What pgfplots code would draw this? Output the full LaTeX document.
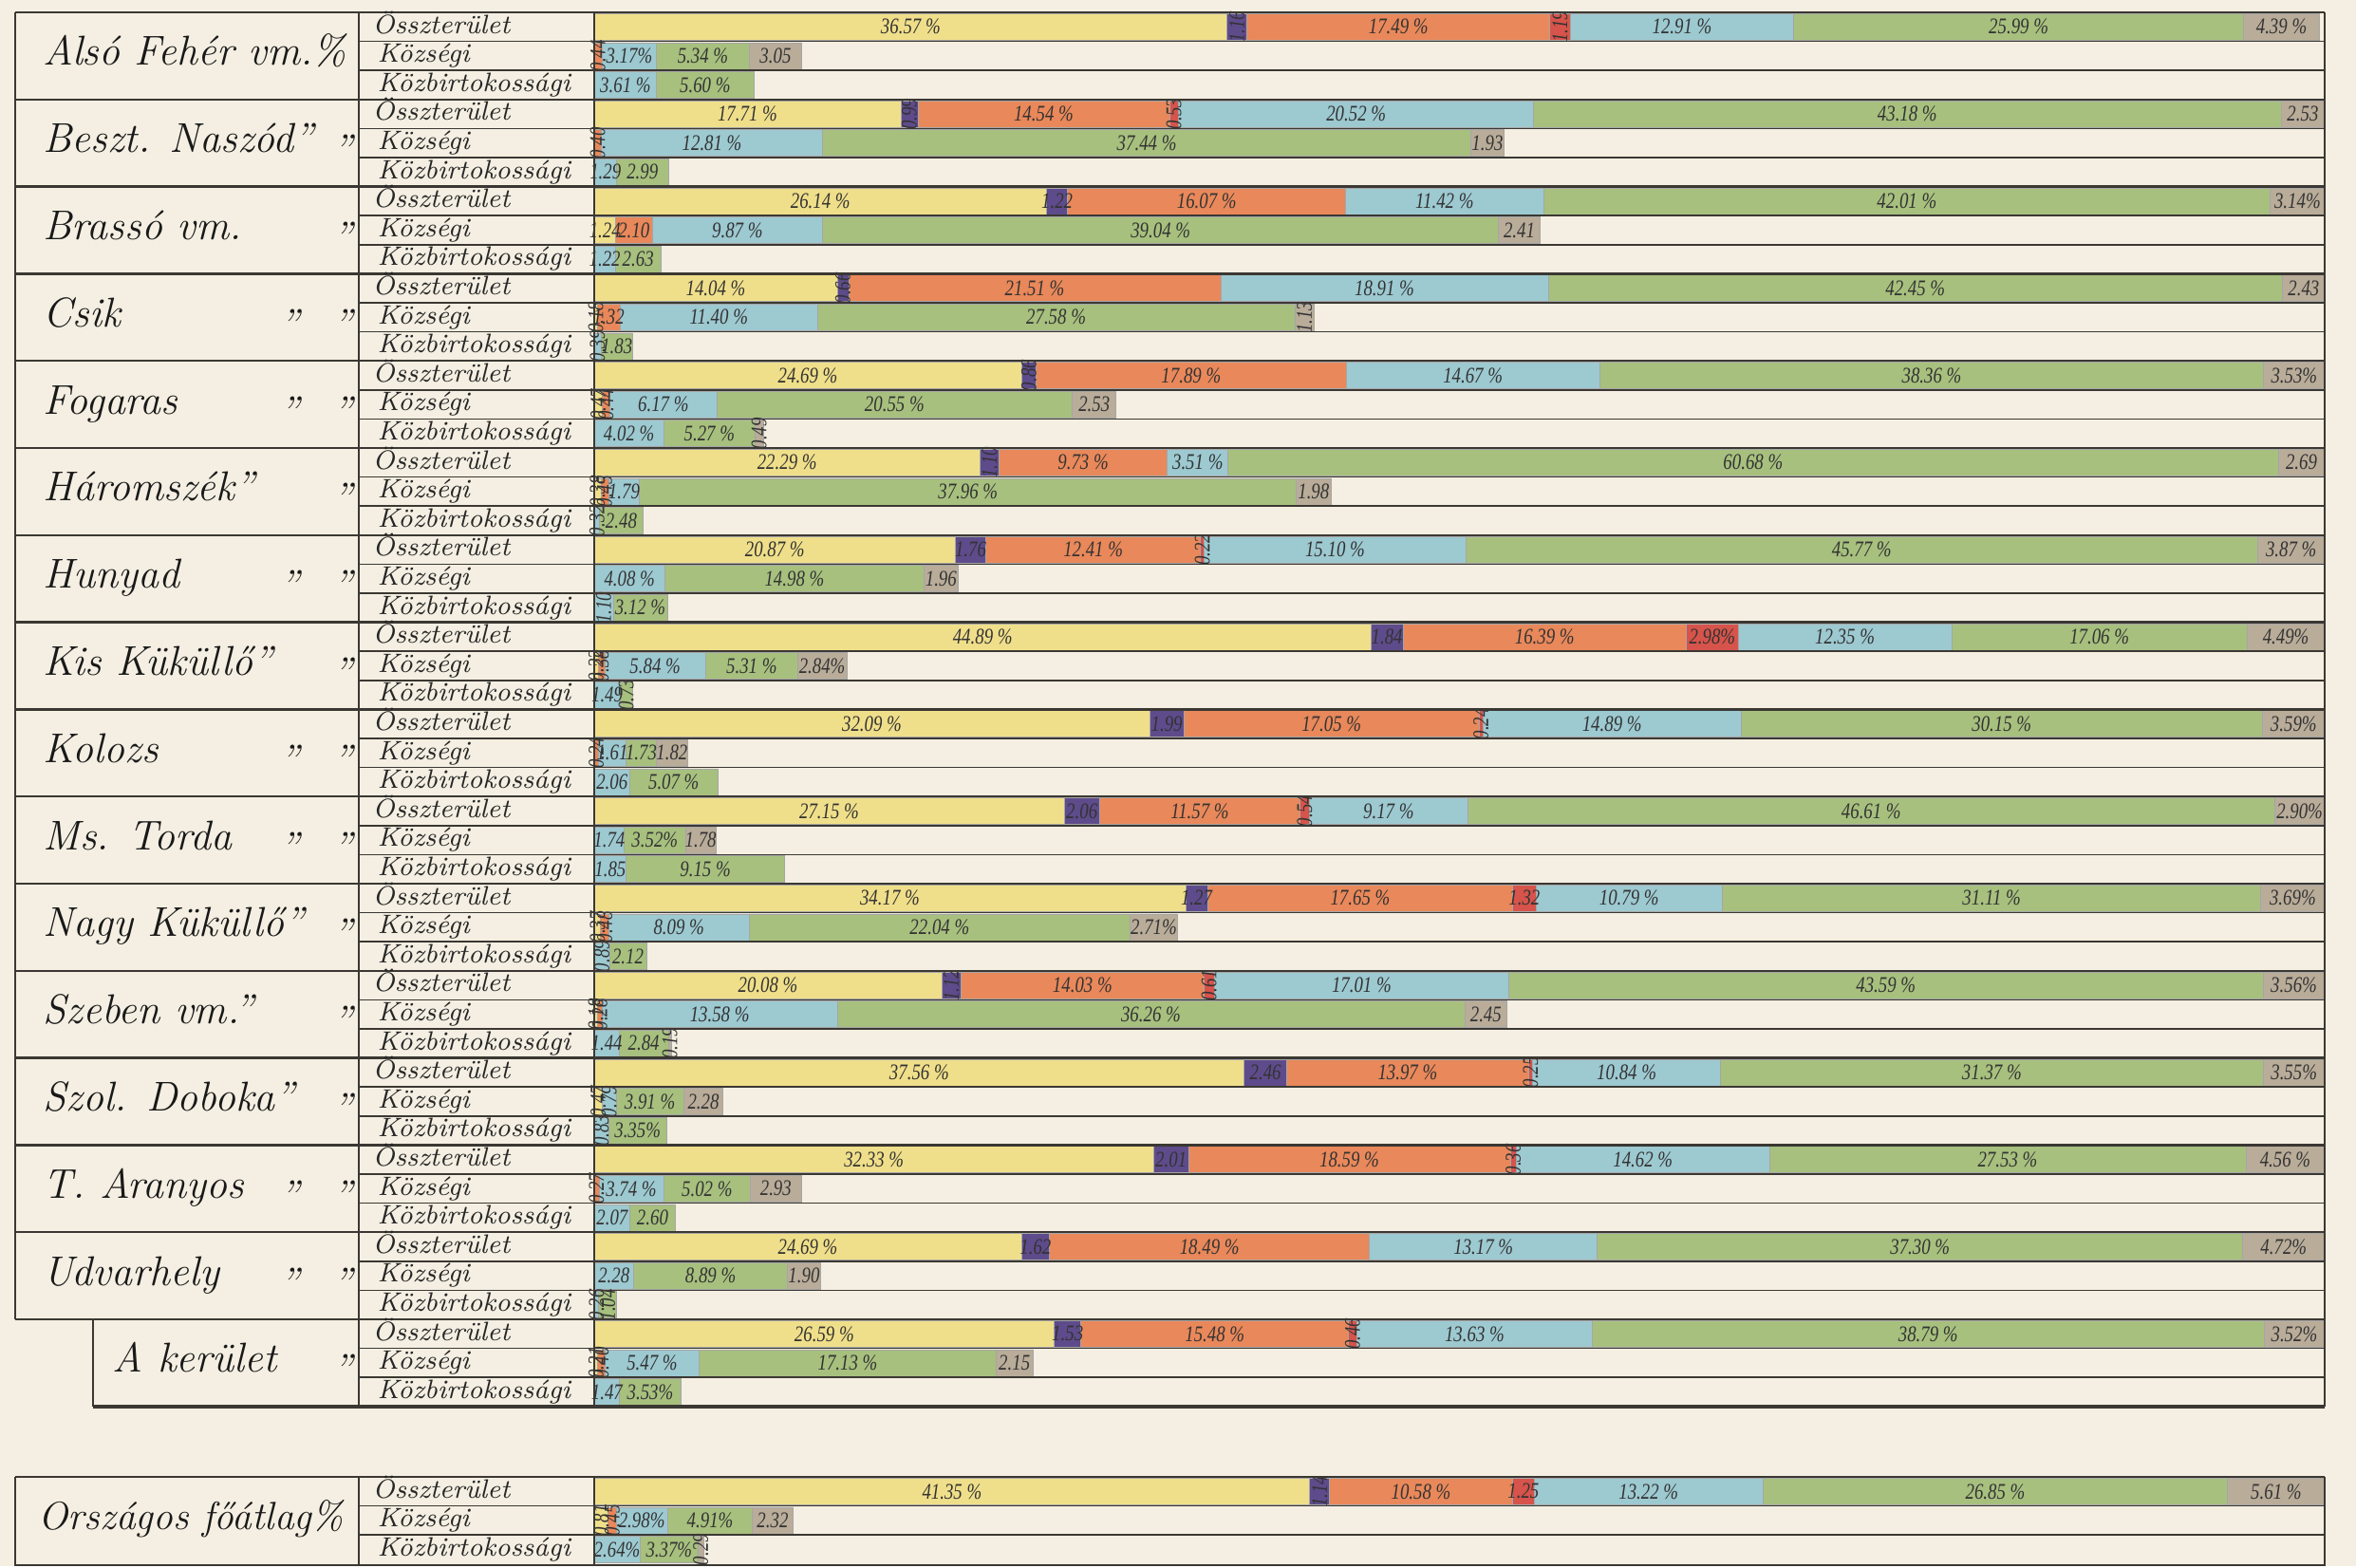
\documentclass[border=0pt]{standalone}
\usepackage{fontspec}
\usepackage{pgfplots}
\usepackage{pgfplotstable}
\pgfplotsset{compat=1.18}
\newfontfamily\labfont[FakeStretch=0.8]{Liberation Serif}
\definecolor{paper}{HTML}{F4EFE2}
\definecolor{cyel}{HTML}{F0DF8A}
\definecolor{cpur}{HTML}{5E4B8B}
\definecolor{cora}{HTML}{E9885A}
\definecolor{cred}{HTML}{D6544B}
\definecolor{cblu}{HTML}{9DC9D1}
\definecolor{cgre}{HTML}{A7C07E}
\definecolor{cgra}{HTML}{B9AC99}
\definecolor{lnc}{HTML}{3B3833}

\pgfplotstableread[col sep=comma]{
y,a,b,c,d,e,f,g,la,lb,lc,ld,le,lf,lg
28.3,36.57,1.16,17.49,1.19,12.91,25.99,4.39,36.57 \%,1.16,17.49 \%,1.19,12.91 \%,25.99 \%,4.39 \%
58.9,0,0,0.44,0,3.17,5.34,3.05,,,0.44,,3.17\%,5.34 \%,3.05
89.5,0,0,0,0,3.61,5.60,0,,,,,3.61 \%,5.60 \%,
120.1,17.71,0.99,14.54,0.53,20.52,43.18,2.53,17.71 \%,0.99,14.54 \%,0.53,20.52 \%,43.18 \%,2.53
150.7,0,0,0.40,0,12.81,37.44,1.93,,,0.40,,12.81 \%,37.44 \%,1.93
181.3,0,0,0,0,1.29,2.99,0,,,,,1.29,2.99,
211.9,26.14,1.22,16.07,0,11.42,42.01,3.14,26.14 \%,1.22,16.07 \%,,11.42 \%,42.01 \%,3.14\%
242.5,1.24,0,2.10,0,9.87,39.04,2.41,1.24,,2.10,,9.87 \%,39.04 \%,2.41
273.1,0,0,0,0,1.22,2.63,0,,,,,1.22,2.63,
303.7,14.04,0.66,21.51,0,18.91,42.45,2.43,14.04 \%,0.66,21.51 \%,,18.91 \%,42.45 \%,2.43
334.3,0.18,0,1.32,0,11.40,27.58,1.13,0.18,,1.32,,11.40 \%,27.58 \%,1.13
364.9,0,0,0,0,0.39,1.83,0,,,,,0.39,1.83,
395.5,24.69,0.86,17.89,0,14.67,38.36,3.53,24.69 \%,0.86,17.89 \%,,14.67 \%,38.36 \%,3.53\%
426.1,0.47,0,0.44,0,6.17,20.55,2.53,0.47,,0.44,,6.17 \%,20.55 \%,2.53
456.7,0,0,0,0,4.02,5.27,0.49,,,,,4.02 \%,5.27 \%,0.49
487.3,22.29,1.10,9.73,0,3.51,60.68,2.69,22.29 \%,1.10,9.73 \%,,3.51 \%,60.68 \%,2.69
517.9,0.38,0,0.45,0,1.79,37.96,1.98,0.38,,0.45,,1.79,37.96 \%,1.98
548.5,0,0,0,0,0.32,2.48,0,,,,,0.32,2.48,
579.1,20.87,1.76,12.41,0.22,15.10,45.77,3.87,20.87 \%,1.76,12.41 \%,0.22,15.10 \%,45.77 \%,3.87 \%
609.7,0,0,0,0,4.08,14.98,1.96,,,,,4.08 \%,14.98 \%,1.96
640.3,0,0,0,0,1.10,3.12,0,,,,,1.10,3.12 \%,
670.9,44.89,1.84,16.39,2.98,12.35,17.06,4.49,44.89 \%,1.84,16.39 \%,2.98\%,12.35 \%,17.06 \%,4.49\%
701.5,0.22,0,0.38,0,5.84,5.31,2.84,0.22,,0.38,,5.84 \%,5.31 \%,2.84\%
732.1,0,0,0,0,1.49,0.73,0,,,,,1.49,0.73,
762.7,32.09,1.99,17.05,0.24,14.89,30.15,3.59,32.09 \%,1.99,17.05 \%,0.24,14.89 \%,30.15 \%,3.59\%
793.3,0,0,0.24,0,1.61,1.73,1.82,,,0.24,,1.61,1.73,1.82
823.9,0,0,0,0,2.06,5.07,0,,,,,2.06,5.07 \%,
854.5,27.15,2.06,11.57,0.54,9.17,46.61,2.90,27.15 \%,2.06,11.57 \%,0.54,9.17 \%,46.61 \%,2.90\%
885.1,0,0,0,0,1.74,3.52,1.78,,,,,1.74,3.52\%,1.78
915.7,0,0,0,0,1.85,9.15,0,,,,,1.85,9.15 \%,
946.3,34.17,1.27,17.65,1.32,10.79,31.11,3.69,34.17 \%,1.27,17.65 \%,1.32,10.79 \%,31.11 \%,3.69\%
976.9,0.37,0,0.48,0,8.09,22.04,2.71,0.37,,0.48,,8.09 \%,22.04 \%,2.71\%
1007.5,0,0,0,0,0.89,2.12,0,,,,,0.89,2.12,
1038.1,20.08,1.12,14.03,0.61,17.01,43.59,3.56,20.08 \%,1.12,14.03 \%,0.61,17.01 \%,43.59 \%,3.56\%
1068.7,0.18,0,0.28,0,13.58,36.26,2.45,0.18,,0.28,,13.58 \%,36.26 \%,2.45
1099.3,0,0,0,0,1.44,2.84,0.19,,,,,1.44,2.84,0.19
1129.9,37.56,2.46,13.97,0.25,10.84,31.37,3.55,37.56 \%,2.46,13.97 \%,0.25,10.84 \%,31.37 \%,3.55\%
1160.5,0.47,0,0,0,0.79,3.91,2.28,0.47,,,,0.79,3.91 \%,2.28
1191.1,0,0,0,0,0.83,3.35,0,,,,,0.83,3.35\%,
1221.7,32.33,2.01,18.59,0.36,14.62,27.53,4.56,32.33 \%,2.01,18.59 \%,0.36,14.62 \%,27.53 \%,4.56 \%
1252.3,0,0,0.27,0,3.74,5.02,2.93,,,0.27,,3.74 \%,5.02 \%,2.93
1282.9,0,0,0,0,2.07,2.60,0,,,,,2.07,2.60,
1313.5,24.69,1.62,18.49,0,13.17,37.30,4.72,24.69 \%,1.62,18.49 \%,,13.17 \%,37.30 \%,4.72\%
1344.1,0,0,0,0,2.28,8.89,1.90,,,,,2.28,8.89 \%,1.90
1374.7,0,0,0,0,0.26,1.04,0,,,,,0.26,1.04,
1405.3,26.59,1.53,15.48,0.46,13.63,38.79,3.52,26.59 \%,1.53,15.48 \%,0.46,13.63 \%,38.79 \%,3.52\%
1435.9,0.21,0,0.40,0,5.47,17.13,2.15,0.21,,0.40,,5.47 \%,17.13 \%,2.15
1466.5,0,0,0,0,1.47,3.53,0,,,,,1.47,3.53\%,
1571.3,41.35,1.14,10.58,1.25,13.22,26.85,5.61,41.35 \%,1.14,10.58 \%,1.25,13.22 \%,26.85 \%,5.61 \%
1601.9,0.81,0,0.45,0,2.98,4.91,2.32,0.81,,0.45,,2.98\%,4.91\%,2.32
1632.5,0,0,0,0,2.64,3.37,0.29,,,,,2.64\%,3.37\%,0.29
}\data

\begin{document}
\begin{tikzpicture}
\fill[paper] (0,0) rectangle (248.2mm,-165mm);
\begin{axis}[
  at={(62.6mm,0mm)}, anchor=north west,
  scale only axis, width=182.3mm, height=165mm,
  xmin=0, xmax=100, ymin=0, ymax=1650, y dir=reverse,
  hide axis, clip=false,
  xbar stacked, bar width=28,
  nodes near coords, point meta=explicit symbolic,
  every node near coord/.append style={anchor=center, inner sep=0pt,
     font=\labfont\itshape\fontsize{6.7}{7}\selectfont, text=black!80,
     rotate={(\val<1.2)*90}},
]
\addplot[fill=cyel, draw=black!35, line width=0.2pt, visualization depends on={\thisrow{a}\as\val}] table[x=a,y=y,meta=la]{\data};
\addplot[fill=cpur, draw=black!35, line width=0.2pt, visualization depends on={\thisrow{b}\as\val}] table[x=b,y=y,meta=lb]{\data};
\addplot[fill=cora, draw=black!35, line width=0.2pt, visualization depends on={\thisrow{c}\as\val}] table[x=c,y=y,meta=lc]{\data};
\addplot[fill=cred, draw=black!35, line width=0.2pt, visualization depends on={\thisrow{d}\as\val}] table[x=d,y=y,meta=ld]{\data};
\addplot[fill=cblu, draw=black!35, line width=0.2pt, visualization depends on={\thisrow{e}\as\val}] table[x=e,y=y,meta=le]{\data};
\addplot[fill=cgre, draw=black!35, line width=0.2pt, visualization depends on={\thisrow{f}\as\val}] table[x=f,y=y,meta=lf]{\data};
\addplot[fill=cgra, draw=black!35, line width=0.2pt, visualization depends on={\thisrow{g}\as\val}] table[x=g,y=y,meta=lg]{\data};
\end{axis}
\begin{scope}[x=0.1mm,y=-0.1mm,
  ln/.style={draw=lnc, line width=0.45pt},
  rl/.style={anchor=base west, inner sep=0pt, text=black!85, font=\fontsize{8}{9}\selectfont\itshape},
  nm/.style={anchor=base west, inner sep=0pt, text=black!90, font=\fontsize{12.5}{14}\selectfont\itshape}]
 \foreach \g in {0,...,15}{
   \pgfmathsetmacro\t{13+91.8*\g}
   \draw[ln, line width=0.7pt] (16,\t) -- (2449,\t);
   \draw[ln] (378,\t+30.6) -- (2449,\t+30.6);
   \draw[ln] (378,\t+61.2) -- (2449,\t+61.2);
   \node[rl] at (392,\t+22) {Összterület};
   \node[rl] at (397,\t+52.6) {Községi};
   \node[rl] at (397,\t+83.2) {Közbirtokossági};
 }
 \draw[ln, line width=1.1pt] (98,1481.8) -- (2449,1481.8);
 \draw[ln, line width=0.7pt] (16,13) -- (16,1390);
 \draw[ln, line width=0.7pt] (98,1390) -- (98,1481.8);
 \draw[ln, line width=0.7pt] (378,13) -- (378,1481.8);
 \draw[ln] (626,13) -- (626,1481.8);
 \draw[ln, line width=0.7pt] (2449,13) -- (2449,1481.8);
 % national average
 \draw[ln, line width=0.7pt] (16,1556) -- (2449,1556);
 \draw[ln] (378,1586.6) -- (2449,1586.6);
 \draw[ln] (378,1617.2) -- (2449,1617.2);
 \draw[ln, line width=0.7pt] (16,1649) -- (2449,1649);
 \draw[ln, line width=0.7pt] (16,1556) -- (16,1650);
 \draw[ln, line width=0.7pt] (378,1556) -- (378,1650);
 \draw[ln] (626,1556) -- (626,1650);
 \draw[ln, line width=0.7pt] (2449,1556) -- (2449,1650);
 \node[rl] at (392,1578) {Összterület};
 \node[rl] at (397,1608.6) {Községi};
 \node[rl] at (397,1639.2) {Közbirtokossági};
 % names
 \node[nm] at (45,68.9) {Alsó Fehér vm.\%};
 \node[nm] at (45,160.7) {Beszt. Naszód''};
 \node[nm] at (45,252.5) {Brassó vm.};
 \node[nm] at (45,344.3) {Csik};
 \node[nm] at (45,436.1) {Fogaras};
 \node[nm] at (45,527.9) {Háromszék''};
 \node[nm] at (45,619.7) {Hunyad};
 \node[nm] at (45,711.5) {Kis Küküllő''};
 \node[nm] at (45,803.3) {Kolozs};
 \node[nm] at (45,895.1) {Ms. Torda};
 \node[nm] at (45,986.9) {Nagy Küküllő''};
 \node[nm] at (45,1078.7) {Szeben vm.''};
 \node[nm] at (45,1170.5) {Szol. Doboka''};
 \node[nm] at (45,1262.3) {T. Aranyos};
 \node[nm] at (45,1354.1) {Udvarhely};
 \node[nm] at (118,1445.9) {A kerület};
 \node[nm, font=\fontsize{11.8}{14}\selectfont\itshape] at (40,1611.9) {Országos főátlag\%};
 % ditto marks
 \foreach \c in {150.7,242.5,334.3,426.1,517.9,609.7,701.5,793.3,885.1,976.9,1068.7,1160.5,1252.3,1344.1,1435.9}
   \node[nm] at (350,\c+22) {''};
 \foreach \c in {334.3,426.1,609.7,793.3,885.1,1252.3,1344.1}
   \node[nm] at (294,\c+22) {''};
\end{scope}
\end{tikzpicture}
\end{document}
